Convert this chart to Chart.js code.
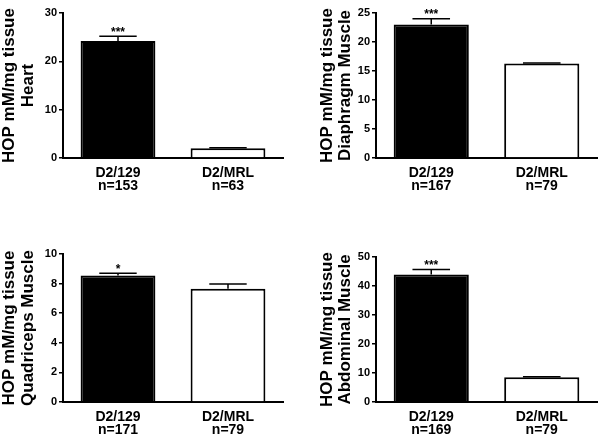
<!DOCTYPE html>
<html lang="en">
<head>
<meta charset="UTF-8">
<title>HOP mM/mg tissue</title>
<script src="https://cdn.jsdelivr.net/npm/chart.js"></script>
<style>
  body { margin: 0; background: #fff; }
  .painel { position: absolute; }
</style>
</head>
<body>
<div class="painel" style="left:0;top:0;width:300px;height:200px"><canvas id="graficoHeart"></canvas></div>
<div class="painel" style="left:300px;top:0;width:300px;height:200px"><canvas id="graficoDiaphragm"></canvas></div>
<div class="painel" style="left:0;top:220px;width:300px;height:217px"><canvas id="graficoQuad"></canvas></div>
<div class="painel" style="left:300px;top:220px;width:300px;height:217px"><canvas id="graficoAbdominal"></canvas></div>

<script>
// data
const groups = ['D2/129', 'D2/MRL'];

const heartN = ['n=153', 'n=63'];
const heartValues = [24.2, 2.0];
const heartErrors = [1.0, 0.1];
const heartStars = ['***', ''];

const diaphragmN = ['n=167', 'n=79'];
const diaphragmValues = [23.0, 16.3];
const diaphragmErrors = [1.0, 0.1];
const diaphragmStars = ['***', ''];

const quadN = ['n=171', 'n=79'];
const quadValues = [8.55, 7.65];
const quadErrors = [0.15, 0.32];
const quadStars = ['*', ''];

const abdominalN = ['n=169', 'n=79'];
const abdominalValues = [44.0, 8.5];
const abdominalErrors = [1.7, 0.2];
const abdominalStars = ['***', ''];

const fonte = '"Liberation Sans", Arial, Helvetica, sans-serif';

// error bars + significance stars
const barrasErro = {
    id: 'barrasErro',
    afterDatasetsDraw(chart, args, opts) {
        const ctx = chart.ctx;
        const y = chart.scales.y;
        const meta = chart.getDatasetMeta(0);
        const values = chart.data.datasets[0].data;
        ctx.save();
        ctx.strokeStyle = '#000';
        ctx.fillStyle = '#000';
        ctx.lineWidth = 1.5;
        meta.data.forEach((bar, i) => {
            const yVal = y.getPixelForValue(values[i]);
            const yTop = y.getPixelForValue(values[i] + opts.errors[i]);
            const half = bar.width / 4;
            ctx.beginPath();
            ctx.moveTo(bar.x, yVal);
            ctx.lineTo(bar.x, yTop);
            ctx.moveTo(bar.x - half, yTop);
            ctx.lineTo(bar.x + half, yTop);
            ctx.stroke();
            if (opts.stars[i]) {
                ctx.font = 'bold 12px ' + fonte;
                ctx.textAlign = 'center';
                ctx.textBaseline = 'bottom';
                ctx.fillText(opts.stars[i], bar.x, yTop + 2);
            }
        });
        ctx.restore();
    }
};

function criarGrafico(id, nomes, values, errors, stars, tecido, max, passo, pad, larguraY, alturaX) {
    const ctx = document.getElementById(id).getContext('2d');
    return new Chart(ctx, {
        type: 'bar',
        data: {
            labels: groups.map((g, i) => [g, nomes[i]]),
            datasets: [{
                data: values,
                backgroundColor: ['#000', '#fff'],
                borderColor: '#000',
                borderWidth: 2,
                barPercentage: 0.68,
                categoryPercentage: 1
            }]
        },
        options: {
            responsive: true,
            maintainAspectRatio: false,
            animation: false,
            layout: { padding: pad },
            plugins: {
                legend: { display: false },
                tooltip: { enabled: false },
                barrasErro: { errors: errors, stars: stars }
            },
            scales: {
                x: {
                    grid: { display: false },
                    border: { color: '#000', width: 2 },
                    ticks: {
                        color: '#000',
                        padding: 0,
                        font: { family: fonte, size: 14, weight: 'bold', lineHeight: 0.95 }
                    },
                    afterFit: s => { s.height = alturaX; }
                },
                y: {
                    min: 0,
                    max: max,
                    ticks: {
                        stepSize: passo,
                        color: '#000',
                        padding: 2,
                        font: { family: fonte, size: 11, weight: 'bold' }
                    },
                    grid: { drawOnChartArea: false, tickLength: 4, color: '#000', lineWidth: 1.5 },
                    border: { color: '#000', width: 2 },
                    title: {
                        display: true,
                        text: ['HOP mM/mg tissue', tecido],
                        color: '#000',
                        padding: 0,
                        font: { family: fonte, size: 17, weight: 'bold', lineHeight: 1.1 }
                    },
                    afterFit: s => { s.width = larguraY; }
                }
            }
        },
        plugins: [barrasErro]
    });
}

criarGrafico('graficoHeart', heartN, heartValues, heartErrors, heartStars, 'Heart',
    30, 10, { top: 13, left: 0, right: 17, bottom: 0 }, 63, 42);
criarGrafico('graficoDiaphragm', diaphragmN, diaphragmValues, diaphragmErrors, diaphragmStars, 'Diaphragm Muscle',
    25, 5, { top: 13, left: 17.5, right: 3, bottom: 0 }, 58.5, 42);
criarGrafico('graficoQuad', quadN, quadValues, quadErrors, quadStars, 'Quadriceps Muscle',
    10, 2, { top: 34, left: 0, right: 17, bottom: 0 }, 63, 35);
criarGrafico('graficoAbdominal', abdominalN, abdominalValues, abdominalErrors, abdominalStars, 'Abdominal Muscle',
    50, 10, { top: 37, left: 17.5, right: 3, bottom: 0 }, 58.5, 35);
</script>
</body>
</html>
